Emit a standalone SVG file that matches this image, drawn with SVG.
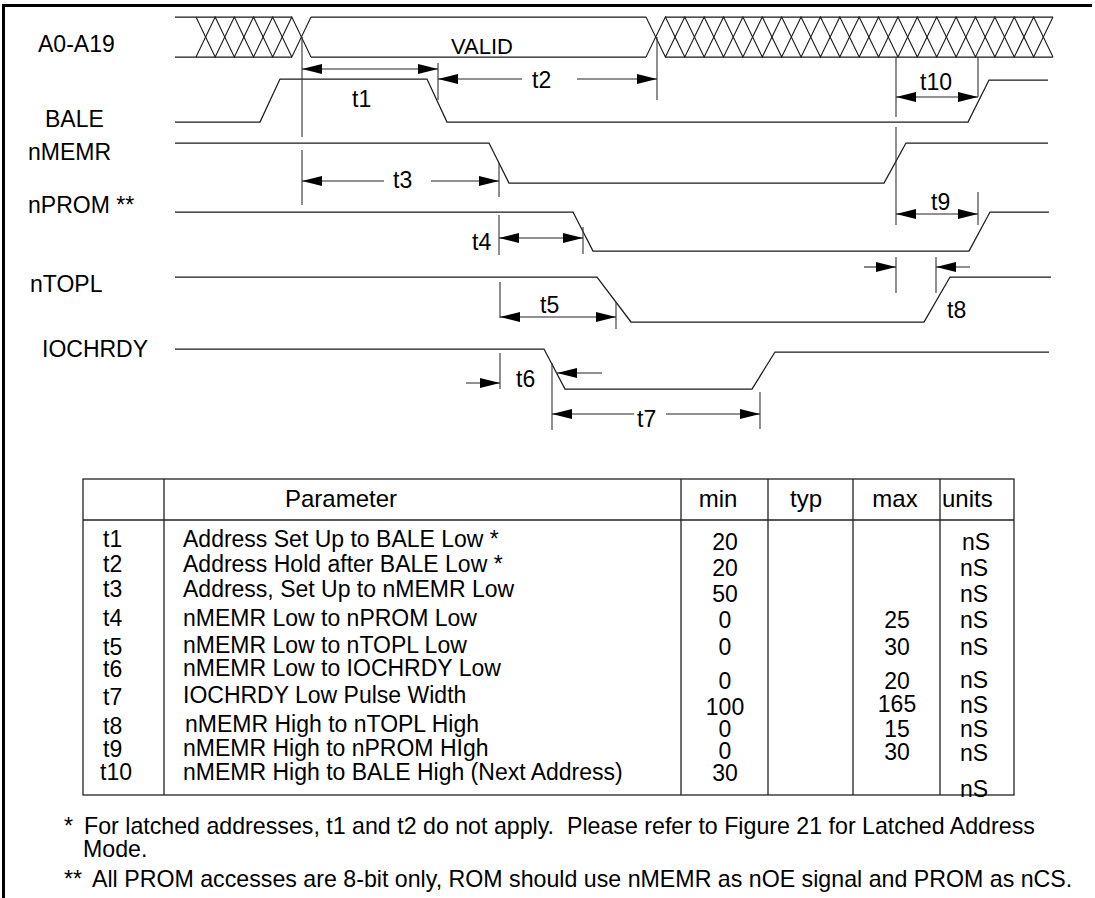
<svg xmlns="http://www.w3.org/2000/svg" width="1095" height="898" viewBox="0 0 1095 898">
<style>
  .frame{stroke:#000;stroke-width:3;fill:none}
  .sig{stroke:#1a1a1a;stroke-width:1.25;fill:none;stroke-linejoin:miter}
  .hatch{stroke:#1a1a1a;stroke-width:1.1;fill:none}
  .ref{stroke:#333;stroke-width:1.1;fill:none}
  .dim{stroke:#222;stroke-width:1.1;fill:none}
  .arr{marker-end:url(#ah)}
  .arrs{marker-start:url(#ah)}
  .lbl{font-family:"Liberation Sans",Arial,sans-serif;font-size:23px;fill:#000}
  .tl{font-family:"Liberation Sans",Arial,sans-serif;font-size:23px;fill:#000}
  .tb{font-family:"Liberation Sans",Arial,sans-serif;font-size:23px;fill:#000}
  .th{font-family:"Liberation Sans",Arial,sans-serif;font-size:24px;fill:#000}
  .fn{font-family:"Liberation Sans",Arial,sans-serif;font-size:23.2px;fill:#000;white-space:pre}
  .tline{stroke:#222;stroke-width:1.3;fill:none}
  .c{text-anchor:middle}
</style>
<defs>
  <marker id="ah" viewBox="0 0 20 10" refX="20" refY="5" markerWidth="20" markerHeight="10" markerUnits="userSpaceOnUse" orient="auto-start-reverse">
    <path d="M0,0 L20,5 L0,10 Z" fill="#000"/>
  </marker>
</defs>

<g id="frame">
  <line class="frame" x1="2" y1="5.5" x2="1092" y2="5.5"/>
  <line class="frame" x1="3.5" y1="4" x2="3.5" y2="898"/>
</g>

<g id="sig-A0-A19">
  <text class="lbl" x="38" y="52">A0-A19</text>
  <path class="sig" d="M175,17 H292 M311,17 H646 M665,17 H1053 M175,57 H292 M311,57 H646 M665,57 H1053"/>
  <polyline class="hatch" points="196,17 215.17,57 234.33,17 253.5,57 272.67,17 291.83,57 311,17"/>
  <polyline class="hatch" points="196,57 215.17,17 234.33,57 253.5,17 272.67,57 291.83,17 311,57"/>
  <polyline class="hatch" points="646,17 665.38,57 684.76,17 704.14,57 723.52,17 742.9,57 762.29,17 781.67,57 801.05,17 820.43,57 839.81,17 859.19,57 878.57,17 897.95,57 917.33,17 936.71,57 956.1,17 975.48,57 994.86,17 1014.24,57 1033.62,17 1053,57"/>
  <polyline class="hatch" points="646,57 665.38,17 684.76,57 704.14,17 723.52,57 742.9,17 762.29,57 781.67,17 801.05,57 820.43,17 839.81,57 859.19,17 878.57,57 897.95,17 917.33,57 936.71,17 956.1,57 975.48,17 994.86,57 1014.24,17 1033.62,57 1053,17"/>
  <text class="lbl" x="451" y="54" style="font-size:22px">VALID</text>
</g>

<g id="sig-BALE">
  <text class="lbl" x="45" y="127">BALE</text>
  <path class="sig" d="M175,122 L260,122 L280,79 L427,79 L447,122 L968,122 L989,80 L1048,80"/>
</g>

<g id="sig-nMEMR">
  <text class="lbl" x="28" y="160">nMEMR</text>
  <path class="sig" d="M175,143 L489,143 L509,183 L884,183 L906,143 L1048,143"/>
</g>

<g id="sig-nPROM">
  <text class="lbl" x="28" y="213">nPROM **</text>
  <path class="sig" d="M175,212 L573,212 L593,251 L969,251 L990,212 L1049,212"/>
</g>

<g id="sig-nTOPL">
  <text class="lbl" x="30" y="292">nTOPL</text>
  <path class="sig" d="M175,277 L597,277 L631,322 L924,322 L950,277 L1051,277"/>
</g>

<g id="sig-IOCHRDY">
  <text class="lbl" x="42" y="357">IOCHRDY</text>
  <path class="sig" d="M175,349 L544,349 L565,389 L752,389 L775,352 L1049,352"/>
</g>

<g id="connectors">
  <path class="ref" d="M302,37 V137 M302,150 V205 M438,63 V100 M657,37 V100 M499,163 V197 M499,215 V255 M583,227 V254 M500,282 V318 M616,302 V329 M500,353 V389 M552,363 V430 M760,392 V429 M896,57 V117 M896,127 V225 M896,257 V293 M936,257 V293 M978,57 V97 M978,192 V225"/>
  <line class="dim arr arrs" x1="302" y1="69" x2="438" y2="69"/>
  <line class="dim arrs" x1="438" y1="79" x2="522" y2="79"/>
  <line class="dim arr" x1="577" y1="79" x2="657" y2="79"/>
  <line class="dim arrs" x1="302" y1="181" x2="384" y2="181"/>
  <line class="dim arr" x1="431" y1="181" x2="499" y2="181"/>
  <line class="dim arr arrs" x1="499" y1="238" x2="583" y2="238"/>
  <line class="dim arr arrs" x1="500" y1="317" x2="616" y2="317"/>
  <line class="dim arr" x1="466" y1="383" x2="500" y2="383"/>
  <line class="dim arr" x1="602" y1="373" x2="557" y2="373"/>
  <line class="dim arrs" x1="552" y1="414" x2="634" y2="414"/>
  <line class="dim arr" x1="666" y1="414" x2="760" y2="414"/>
  <line class="dim arr" x1="864" y1="267" x2="896" y2="267"/>
  <line class="dim arr" x1="970" y1="267" x2="936" y2="267"/>
  <line class="dim arr arrs" x1="896" y1="214" x2="978" y2="214"/>
  <line class="dim arr arrs" x1="896" y1="97" x2="978" y2="97"/>
</g>

<g id="timing-labels">
  <text class="tl" x="352" y="107">t1</text>
  <text class="tl" x="532" y="88">t2</text>
  <text class="tl" x="393" y="188">t3</text>
  <text class="tl" x="472" y="250">t4</text>
  <text class="tl" x="540" y="313">t5</text>
  <text class="tl" x="516" y="387">t6</text>
  <text class="tl" x="637" y="427">t7</text>
  <text class="tl" x="947" y="318">t8</text>
  <text class="tl" x="931" y="210">t9</text>
  <text class="tl" x="920" y="90">t10</text>
</g>

<g id="table">
  <rect class="tline" x="83" y="479" width="931" height="316"/>
  <path class="tline" d="M83,520 H1014 M164,479 V795 M681,479 V795 M768,479 V795 M853,479 V795 M940,479 V795"/>
  <text class="th c" x="341" y="507">Parameter</text>
  <text class="th c" x="718" y="507">min</text>
  <text class="th c" x="806" y="507">typ</text>
  <text class="th c" x="895" y="507">max</text>
  <text class="th" x="942" y="507">units</text>

  <g id="col-id">
    <text class="tb" x="103" y="547">t1</text>
    <text class="tb" x="103" y="572">t2</text>
    <text class="tb" x="103" y="597">t3</text>
    <text class="tb" x="103" y="626">t4</text>
    <text class="tb" x="103" y="655">t5</text>
    <text class="tb" x="103" y="677">t6</text>
    <text class="tb" x="103" y="705">t7</text>
    <text class="tb" x="103" y="734">t8</text>
    <text class="tb" x="103" y="757">t9</text>
    <text class="tb" x="100" y="780">t10</text>
  </g>
  <g id="col-param">
    <text class="tb" x="183" y="547">Address Set Up to BALE Low *</text>
    <text class="tb" x="183" y="572">Address Hold after BALE Low *</text>
    <text class="tb" x="183" y="597">Address, Set Up to nMEMR Low</text>
    <text class="tb" x="183" y="626">nMEMR Low to nPROM Low</text>
    <text class="tb" x="183" y="653">nMEMR Low to nTOPL Low</text>
    <text class="tb" x="183" y="676">nMEMR Low to IOCHRDY Low</text>
    <text class="tb" x="183" y="703">IOCHRDY Low Pulse Width</text>
    <text class="tb" x="185" y="732">nMEMR High to nTOPL High</text>
    <text class="tb" x="183" y="756">nMEMR High to nPROM HIgh</text>
    <text class="tb" x="183" y="780">nMEMR High to BALE High (Next Address)</text>
  </g>
  <g id="col-min">
    <text class="tb c" x="725" y="550">20</text>
    <text class="tb c" x="725" y="576">20</text>
    <text class="tb c" x="725" y="602">50</text>
    <text class="tb c" x="725" y="628">0</text>
    <text class="tb c" x="725" y="655">0</text>
    <text class="tb c" x="725" y="689">0</text>
    <text class="tb c" x="725" y="715">100</text>
    <text class="tb c" x="725" y="737">0</text>
    <text class="tb c" x="725" y="759">0</text>
    <text class="tb c" x="725" y="781">30</text>
  </g>
  <g id="col-max">
    <text class="tb c" x="897" y="628">25</text>
    <text class="tb c" x="897" y="655">30</text>
    <text class="tb c" x="897" y="689">20</text>
    <text class="tb c" x="897" y="712">165</text>
    <text class="tb c" x="897" y="737">15</text>
    <text class="tb c" x="897" y="760">30</text>
  </g>
  <g id="col-units">
    <text class="tb" x="962" y="550">nS</text>
    <text class="tb" x="960" y="576">nS</text>
    <text class="tb" x="960" y="602">nS</text>
    <text class="tb" x="960" y="628">nS</text>
    <text class="tb" x="960" y="655">nS</text>
    <text class="tb" x="960" y="688">nS</text>
    <text class="tb" x="960" y="713">nS</text>
    <text class="tb" x="960" y="737">nS</text>
    <text class="tb" x="960" y="761">nS</text>
    <text class="tb" x="960" y="797">nS</text>
  </g>
</g>

<g id="footnotes">
  <text class="fn" x="64" y="834">*</text>
  <text class="fn" x="84" y="834">For latched addresses, t1 and t2 do not apply.  Please refer to Figure 21 for Latched Address</text>
  <text class="fn" x="83" y="857">Mode.</text>
  <text class="fn" x="64" y="887">**</text>
  <text class="fn" x="92" y="887">All PROM accesses are 8-bit only, ROM should use nMEMR as nOE signal and PROM as nCS.</text>
</g>
</svg>
